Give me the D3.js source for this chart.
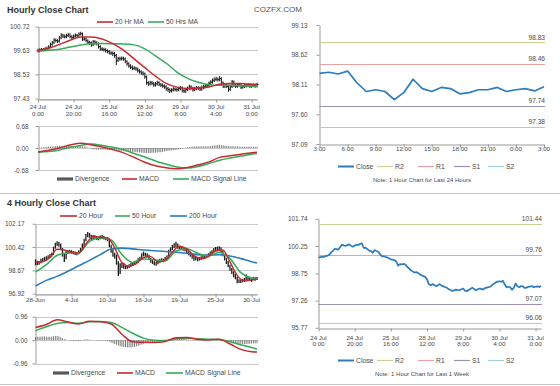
<!DOCTYPE html>
<html>
<head>
<meta charset="utf-8">
<script src="https://cdn.jsdelivr.net/npm/d3@7"></script>
<style>
  body { margin: 0; background: #fff; }
  svg { display: block; }
</style>
</head>
<body>
<div id="chart"></div>
<script>
// hourly closes, 24 Jul 0:00 -> 31 Jul 3:00 (124 bars)
const hourClose = [99.62,99.64,99.66,99.65,99.70,99.72,99.78,99.90,99.98,100.10,
  100.08,100.05,100.20,100.33,100.28,100.25,100.30,100.34,100.26,100.21,
  100.28,100.32,100.30,100.37,100.39,100.14,100.16,100.08,100.00,99.97,
  99.88,100.03,99.98,99.94,99.80,99.70,99.68,99.66,99.62,99.58,
  99.52,99.50,99.48,99.40,99.17,99.26,99.24,99.27,99.24,99.12,
  99.02,98.92,98.86,98.80,98.82,98.78,98.70,98.65,98.60,98.56,
  98.42,98.15,98.10,98.16,98.12,98.05,98.10,98.16,98.08,98.04,
  98.00,97.96,97.88,97.84,97.79,97.82,97.86,97.84,97.83,97.88,
  97.92,97.80,97.77,97.84,97.90,97.97,97.90,97.83,97.88,97.92,
  97.90,97.86,97.94,97.97,98.00,98.02,98.12,98.18,98.26,98.30,
  98.32,98.29,98.34,98.14,97.99,98.02,97.99,97.85,97.97,98.20,
  98.04,97.99,98.06,98.04,97.95,97.97,98.02,98.02,98.06,97.99,
  98.02,98.04,98.00,98.07];
const hourHigh = [99.68,99.70,99.71,99.72,99.75,99.78,99.84,99.95,100.04,100.16,
  100.15,100.12,100.26,100.39,100.37,100.33,100.36,100.41,100.38,100.30,
  100.33,100.38,100.36,100.43,100.46,100.42,100.22,100.20,100.12,100.05,
  100.01,100.08,100.07,100.02,99.97,99.84,99.75,99.73,99.70,99.66,
  99.62,99.57,99.55,99.53,99.44,99.32,99.31,99.33,99.32,99.28,
  99.16,99.06,98.97,98.91,98.88,98.86,98.82,98.75,98.70,98.65,
  98.60,98.46,98.20,98.22,98.21,98.16,98.16,98.22,98.20,98.12,
  98.09,98.05,98.01,97.93,97.88,97.88,97.92,97.91,97.90,97.94,
  97.98,97.96,97.84,97.90,97.96,98.03,98.01,97.94,97.94,97.98,
  97.97,97.95,98.00,98.03,98.06,98.08,98.18,98.24,98.32,98.37,
  98.40,98.37,98.42,98.38,98.18,98.08,98.07,98.03,98.02,98.25,
  98.23,98.08,98.11,98.10,98.08,98.02,98.07,98.07,98.12,98.10,
  98.07,98.09,98.08,98.13];
const hourLow = [99.55,99.57,99.60,99.60,99.61,99.66,99.69,99.75,99.86,99.94,
  100.02,99.99,100.01,100.16,100.22,100.19,100.21,100.26,100.21,100.15,
  100.17,100.24,100.25,100.27,100.33,100.08,100.09,100.02,99.94,99.91,
  99.82,99.85,99.92,99.88,99.74,99.64,99.62,99.60,99.56,99.52,
  99.46,99.44,99.40,99.32,98.98,99.12,99.18,99.19,99.18,99.06,
  98.95,98.86,98.80,98.74,98.75,98.72,98.64,98.59,98.54,98.50,
  98.36,98.08,98.03,98.05,98.06,97.99,98.00,98.05,98.02,97.98,
  97.94,97.90,97.81,97.76,97.70,97.73,97.77,97.78,97.76,97.78,
  97.83,97.73,97.70,97.72,97.79,97.85,97.84,97.77,97.78,97.83,
  97.84,97.80,97.81,97.88,97.92,97.95,97.97,98.07,98.13,98.21,
  98.24,98.23,98.24,98.08,97.93,97.93,97.93,97.76,97.80,97.93,
  97.98,97.93,97.94,97.99,97.89,97.90,97.93,97.96,97.98,97.93,
  97.94,97.97,97.94,97.96];
const hourDiv = [0.01,0.01,0.02,0.02,0.03,0.03,0.04,0.04,0.05,0.05,
  0.06,0.06,0.07,0.07,0.07,0.07,0.07,0.07,0.06,0.06,
  0.06,0.06,0.06,0.06,0.06,0.05,0.05,0.04,0.02,0.00,
  -0.02,-0.04,-0.04,-0.05,-0.05,-0.05,-0.05,-0.05,-0.05,-0.05,
  -0.06,-0.06,-0.07,-0.08,-0.09,-0.09,-0.09,-0.10,-0.10,-0.11,
  -0.11,-0.12,-0.12,-0.12,-0.12,-0.13,-0.13,-0.14,-0.14,-0.15,
  -0.15,-0.16,-0.16,-0.16,-0.15,-0.15,-0.14,-0.14,-0.13,-0.13,
  -0.12,-0.11,-0.10,-0.09,-0.08,-0.07,-0.07,-0.06,-0.05,-0.04,
  -0.03,-0.02,0.00,0.01,0.02,0.03,0.04,0.04,0.05,0.05,
  0.05,0.05,0.05,0.05,0.05,0.05,0.05,0.06,0.07,0.08,
  0.08,0.09,0.10,0.09,0.08,0.07,0.06,0.06,0.05,0.06,
  0.05,0.05,0.05,0.04,0.04,0.04,0.04,0.04,0.04,0.04,
  0.04,0.04,0.04,0.04];

// smooth lines of the hourly chart, sampled at these bars
const hourLineIdx = [0,6,12,18,24,30,36,42,48,54,60,66,72,78,84,90,96,102,108,114,120,123];
const hourMa20 = [99.62,99.73,99.90,100.09,100.24,100.24,100.15,99.94,99.64,99.24,98.84,98.45,98.12,97.95,97.89,97.91,97.96,98.08,98.12,98.11,98.08,98.07];
const hourMa50 = [99.62,99.64,99.68,99.78,99.87,99.93,99.94,99.93,99.92,99.88,99.70,99.38,99.04,98.64,98.35,98.17,98.06,98.03,98.03,98.01,98.00,97.99];
const hourMacd = [-0.12,-0.07,0.00,0.09,0.15,0.10,0.03,-0.05,-0.15,-0.29,-0.44,-0.55,-0.61,-0.64,-0.60,-0.52,-0.43,-0.29,-0.24,-0.19,-0.15,-0.13];
const hourSignal = [-0.13,-0.11,-0.06,0.02,0.08,0.12,0.08,0.02,-0.05,-0.17,-0.28,-0.40,-0.50,-0.59,-0.62,-0.57,-0.48,-0.38,-0.31,-0.25,-0.19,-0.17];

const hourLabels = [["24 Jul","0:00"],["24 Jul","20:00"],["25 Jul","16:00"],["28 Jul","12:00"],["29 Jul","8:00"],["30 Jul","4:00"],["31 Jul","0:00"]];
const hourPriceTicks = ["100.72","99.63","98.53","97.43"];
const hourMacdTicks = ["0.68","0.00","-0.68"];

// 4 hourly bars, 28 Jun -> 31 Jul (124 bars)
const fourClose = [99.30,99.17,99.25,99.42,99.45,99.55,99.60,99.67,99.75,99.85,
  100.35,100.60,100.67,100.62,100.30,99.80,99.55,100.00,100.05,100.10,
  100.02,100.00,99.95,99.92,100.05,100.20,100.55,100.92,101.25,101.35,
  101.30,101.10,101.20,101.17,101.10,101.05,101.17,101.20,101.10,101.05,
  101.00,100.55,100.17,99.92,99.80,99.30,98.67,99.05,99.17,99.05,
  98.92,98.95,99.00,99.10,99.17,99.25,99.30,99.45,99.55,99.80,
  99.92,99.85,99.80,99.55,99.40,99.30,99.20,99.17,99.30,99.42,
  99.45,99.42,99.55,99.67,100.10,100.25,100.42,100.50,100.62,100.42,
  100.38,100.30,100.28,100.25,100.05,99.95,99.85,99.70,99.55,99.58,
  99.50,99.55,99.60,99.65,99.67,99.75,99.80,99.95,100.05,100.20,
  100.30,100.32,100.35,100.10,99.85,99.55,99.30,99.05,98.80,98.55,
  98.30,98.17,97.80,97.88,97.85,97.90,97.92,98.05,98.10,98.00,
  97.92,98.05,98.02,98.06];
const fourHigh = [99.50,99.40,99.38,99.55,99.60,99.68,99.72,99.80,99.90,100.00,
  100.45,100.75,100.85,100.80,100.68,100.35,99.90,100.12,100.18,100.22,
  100.18,100.12,100.08,100.05,100.18,100.35,100.68,101.05,101.40,101.55,
  101.48,101.35,101.32,101.30,101.25,101.20,101.28,101.32,101.25,101.18,
  101.15,101.05,100.60,100.25,100.00,99.85,99.35,99.20,99.30,99.25,
  99.10,99.08,99.12,99.22,99.30,99.38,99.42,99.58,99.70,99.95,
  100.08,100.00,99.95,99.85,99.60,99.45,99.35,99.30,99.42,99.55,
  99.58,99.55,99.68,99.80,100.22,100.40,100.58,100.70,100.82,100.68,
  100.52,100.45,100.40,100.38,100.30,100.10,100.00,99.90,99.75,99.70,
  99.65,99.68,99.72,99.78,99.80,99.88,99.95,100.08,100.18,100.35,
  100.42,100.45,100.48,100.40,100.15,99.90,99.62,99.38,99.10,98.85,
  98.60,98.40,98.20,98.00,97.98,98.02,98.10,98.38,98.25,98.15,
  98.08,98.18,98.15,98.18];
const fourLow = [99.05,99.05,99.10,99.20,99.32,99.38,99.45,99.52,99.60,99.70,
  99.82,100.30,100.50,100.45,100.20,99.70,99.30,99.50,99.90,99.95,
  99.92,99.88,99.82,99.80,99.88,100.00,100.15,100.50,100.85,101.15,
  101.12,100.95,101.02,101.00,100.95,100.92,101.00,101.05,100.98,100.92,
  100.85,100.40,100.00,99.70,99.55,99.10,98.25,98.40,98.85,98.80,
  98.75,98.80,98.85,98.95,99.02,99.10,99.15,99.25,99.38,99.50,
  99.72,99.70,99.65,99.45,99.25,99.15,99.05,99.02,99.12,99.25,
  99.30,99.28,99.38,99.50,99.62,100.05,100.20,100.35,100.40,100.30,
  100.25,100.18,100.15,100.10,99.92,99.80,99.70,99.55,99.40,99.42,
  99.35,99.40,99.45,99.50,99.52,99.58,99.65,99.75,99.88,100.00,
  100.12,100.18,100.20,99.98,99.72,99.42,99.15,98.90,98.65,98.40,
  98.15,98.00,97.70,97.72,97.72,97.78,97.80,97.92,97.95,97.88,
  97.80,97.92,97.90,97.94];
const fourDiv = [0.13,0.13,0.14,0.14,0.15,0.15,0.14,0.14,0.13,0.14,
  0.16,0.17,0.17,0.15,0.12,0.08,0.04,0.02,0.00,-0.01,
  -0.02,-0.03,-0.03,-0.04,-0.04,-0.02,0.00,0.02,0.03,0.03,
  0.02,0.01,0.00,0.00,-0.01,-0.01,-0.02,-0.02,-0.02,-0.03,
  -0.03,-0.06,-0.10,-0.13,-0.16,-0.19,-0.23,-0.25,-0.27,-0.28,
  -0.29,-0.30,-0.30,-0.30,-0.29,-0.28,-0.26,-0.24,-0.21,-0.18,
  -0.15,-0.13,-0.12,-0.11,-0.10,-0.09,-0.09,-0.08,-0.07,-0.06,
  -0.05,-0.04,-0.04,-0.02,0.01,0.04,0.06,0.08,0.09,0.08,
  0.07,0.06,0.05,0.04,0.03,0.02,0.01,0.00,-0.01,-0.01,
  -0.02,-0.02,-0.02,-0.03,-0.03,-0.02,-0.01,0.00,0.01,0.02,
  0.02,0.02,0.02,0.01,-0.01,-0.03,-0.05,-0.07,-0.09,-0.11,
  -0.12,-0.13,-0.14,-0.15,-0.15,-0.16,-0.16,-0.16,-0.15,-0.15,
  -0.14,-0.14,-0.13,-0.13];

const fourMa20Idx = [0,4,8,12,16,20,24,28,32,36,40,44,48,52,56,60,64,68,72,76,80,84,88,92,96,100,104,108,112,116,120,123];
const fourMa20 = [99.28,99.32,99.62,100.25,100.20,100.02,99.98,100.65,101.22,101.14,101.10,100.35,99.25,98.98,99.18,99.62,99.70,99.30,99.42,100.05,100.48,100.28,99.78,99.56,99.72,100.12,100.20,99.30,98.30,97.88,97.96,98.02];
const fourLineIdx = [0,6,12,18,24,30,36,42,48,54,60,66,72,78,84,90,96,102,108,114,120,123];
const fourMa50 = [98.55,99.10,99.80,99.98,100.00,100.85,101.10,100.95,99.85,99.26,99.52,99.46,99.40,100.12,100.30,99.95,99.75,100.03,99.55,98.50,98.10,98.05];
const fourMa200 = [97.50,97.92,98.22,98.60,99.02,99.42,99.85,100.27,100.34,100.28,100.20,100.14,100.09,100.03,99.95,99.85,99.80,99.85,99.75,99.55,99.32,99.22];
const fourMacd = [0.52,0.64,0.84,0.74,0.66,0.77,0.75,0.66,0.24,-0.07,-0.09,-0.10,-0.06,0.10,0.11,0.03,0.00,0.04,-0.16,-0.38,-0.48,-0.49];
const fourSignal = [0.39,0.55,0.68,0.72,0.69,0.75,0.76,0.72,0.52,0.28,0.08,-0.01,-0.02,0.04,0.08,0.06,0.04,0.02,-0.07,-0.19,-0.30,-0.37];

const fourLabels = ["28-Jun","4-Jul","10-Jul","16-Jul","19-Jul","25-Jul","30-Jul"];
const fourPriceTicks = ["102.17","100.42","98.67","96.92"];
const fourMacdTicks = ["0.96","0.00","-0.96"];

// pivot levels
const levelNames = ["R2","R1","S1","S2"];
const dayLevels = [98.83, 98.46, 97.74, 97.38];
const weekLevels = [101.44, 99.76, 97.07, 96.06];
const dayLabels = ["3:00","6:00","9:00","12:00","15:00","18:00","21:00","0:00","3:00"];
const dayPriceTicks = ["99.13","98.62","98.11","97.60","97.09"];
const weekPriceTicks = ["101.74","100.25","98.75","97.26","95.77"];

/*********************************************/
/*              setup                        */
/*********************************************/
const FONT = "'Liberation Sans', Arial, sans-serif";
const TXT = "#4a4a4a";
const AXIS = "#9a9a9a";
const GRID = "#c9c9c9";
const RED = "#c52b2e";
const GREEN = "#34ac57";
const BLUE = "#2b7cbd";
const LEVEL_COLORS = ["#c9d294", "#e3a3a2", "#9c92b5", "#9fd0e1"];

const svg = d3.select("#chart")
  .append("svg")
    .attr("width", 560)
    .attr("height", 386)
    .attr("font-family", FONT);

const crisp = v => Math.round(v) + 0.5;

const addText = (txt, x, y, size, opts = {}) => svg.append("text")
  .text(txt)
  .attr("x", x)
  .attr("y", y)
  .attr("font-size", size)
  .attr("fill", opts.fill || TXT)
  .attr("font-weight", opts.weight || null)
  .attr("text-anchor", opts.anchor || "start");

const yAxis = (scale, left, labels, pad) => {
  const values = labels.map(Number);
  const g = svg.append("g")
    .attr("transform", `translate(${crisp(left)},0)`)
    .call(d3.axisLeft(scale).tickValues(values).tickFormat((d, i) => labels[i])
      .tickSize(3).tickPadding(pad).tickSizeOuter(0));
  g.attr("font-family", FONT).attr("font-size", 6.4);
  g.select(".domain").attr("stroke", AXIS);
  g.selectAll(".tick line").attr("stroke", AXIS);
  g.selectAll(".tick text").attr("fill", TXT);
  return g;
};

const grid = (scale, labels, x0, x1) => svg.append("g")
  .selectAll("line")
  .data(labels.map(Number))
  .join("line")
    .attr("x1", x0).attr("x2", x1)
    .attr("y1", d => crisp(scale(d))).attr("y2", d => crisp(scale(d)))
    .attr("stroke", GRID);

const xTicks = (scale, bottom, values) => {
  const g = svg.append("g")
    .attr("transform", `translate(0,${crisp(bottom)})`)
    .call(d3.axisBottom(scale).tickValues(values).tickFormat("").tickSize(3).tickSizeOuter(0));
  g.select(".domain").attr("stroke", AXIS);
  g.selectAll(".tick line").attr("stroke", AXIS);
};

const xLabels = (scale, values, labels, y, size) => svg.append("g")
  .selectAll("text")
  .data(values)
  .join("text")
    .attr("x", d => scale(d))
    .attr("y", y)
    .attr("font-size", size)
    .attr("fill", TXT)
    .attr("text-anchor", "middle")
    .selectAll("tspan")
    .data((d, i) => [].concat(labels[i]))
    .join("tspan")
      .attr("x", function() { return this.parentNode.getAttribute("x"); })
      .attr("dy", (d, i) => i === 0 ? 0 : 6.4)
      .text(d => d);

const smoothLine = (x, y, idx, values, color, width) => svg.append("path")
  .datum(values)
  .attr("d", d3.line().x((d, i) => x(idx[i])).y(d => y(d)).curve(d3.curveMonotoneX))
  .attr("fill", "none")
  .attr("stroke", color)
  .attr("stroke-width", width)
  .attr("stroke-linejoin", "round");

const divergenceBars = (x, y, values) => svg.append("g")
  .selectAll("rect")
  .data(values)
  .join("rect")
    .attr("x", (d, i) => x(i) - 0.45)
    .attr("width", 0.9)
    .attr("y", d => Math.min(y(d), y(0)))
    .attr("height", d => Math.abs(y(d) - y(0)))
    .attr("fill", "#707070");

const legend = (items, y) => items.forEach(it => {
  if (it.bar) {
    svg.append("rect").attr("x", it.x).attr("y", y - 1.6).attr("width", it.w).attr("height", 3.2).attr("fill", "#5a5a5a");
  } else {
    svg.append("line").attr("x1", it.x).attr("x2", it.x + it.w).attr("y1", y).attr("y2", y)
      .attr("stroke", it.color).attr("stroke-width", it.sw || 1.6);
  }
  addText(it.label, it.x + it.w + 2, y + 2.4, 6.8);
});

/*********************************************/
/*              titles                       */
/*********************************************/
addText("Hourly Close Chart", 7, 12.8, 9, { weight: "bold", fill: "#333" });
addText("COZFX.COM", 278, 12.2, 8, { anchor: "middle", fill: "#555" });
addText("4 Hourly Close Chart", 7, 206, 9, { weight: "bold", fill: "#333" });

svg.append("line").attr("x1", 0).attr("x2", 560).attr("y1", 193.5).attr("y2", 193.5).attr("stroke", "#c4c4c4").attr("stroke-width", 1.2);
svg.append("line").attr("x1", 0).attr("x2", 560).attr("y1", 384.5).attr("y2", 384.5).attr("stroke", "#c4c4c4").attr("stroke-width", 1.2);

/*********************************************/
/*              hourly close chart           */
/*********************************************/
const xH = d3.scaleLinear().domain([0, 123]).range([38, 257]);
const yH = d3.scaleLinear().domain([97.43, 100.72]).range([98.5, 26.5]);
const idxTicks = d3.range(0, 121, 20);

grid(yH, hourPriceTicks, 38, 258);
yAxis(yH, 38, hourPriceTicks, 6);
xTicks(xH, 98.5, idxTicks);
xLabels(xH, idxTicks, hourLabels, 109.3, 6.2);

svg.append("g").selectAll("line")
  .data(hourClose)
  .join("line")
    .attr("x1", (d, i) => xH(i)).attr("x2", (d, i) => xH(i))
    .attr("y1", (d, i) => yH(hourHigh[i]) - 0.5).attr("y2", (d, i) => yH(hourLow[i]) + 0.5)
    .attr("stroke", "#1a1a1a").attr("stroke-width", 1.05);
svg.append("g").selectAll("line")
  .data(hourClose)
  .join("line")
    .attr("x1", (d, i) => xH(i)).attr("x2", (d, i) => xH(i) + 1.4)
    .attr("y1", d => yH(d)).attr("y2", d => yH(d))
    .attr("stroke", "#1a1a1a").attr("stroke-width", 1);

smoothLine(xH, yH, hourLineIdx, hourMa50, GREEN, 1.5);
smoothLine(xH, yH, hourLineIdx, hourMa20, RED, 1.5);

legend([
  { x: 97, w: 16, color: RED, label: "20 Hr MA" },
  { x: 148, w: 16, color: GREEN, label: "50 Hrs MA" }
], 22);

// MACD
const yHm = d3.scaleLinear().domain([-0.68, 0.68]).range([170, 126]);
grid(yHm, hourMacdTicks, 38, 258);
yAxis(yHm, 38, hourMacdTicks, 7);
divergenceBars(xH, yHm, hourDiv);
smoothLine(xH, yHm, hourLineIdx, hourSignal, GREEN, 1.5);
smoothLine(xH, yHm, hourLineIdx, hourMacd, RED, 1.5);

legend([
  { x: 57, w: 16, bar: true, label: "Divergence" },
  { x: 122, w: 15, color: RED, label: "MACD" },
  { x: 173, w: 16, color: GREEN, label: "MACD Signal Line" }
], 179);

/*********************************************/
/*              4 hourly close chart         */
/*********************************************/
const xF = d3.scaleLinear().domain([0, 123]).range([35.5, 257]);
const yF = d3.scaleLinear().domain([96.92, 102.17]).range([293.7, 223.7]);

grid(yF, fourPriceTicks, 35, 258);
yAxis(yF, 35, fourPriceTicks, 8);
xTicks(xF, 293.7, idxTicks);
xLabels(xF, idxTicks, fourLabels, 302.2, 6.2);

svg.append("g").selectAll("line")
  .data(fourClose)
  .join("line")
    .attr("x1", (d, i) => xF(i)).attr("x2", (d, i) => xF(i))
    .attr("y1", (d, i) => yF(fourHigh[i])).attr("y2", (d, i) => yF(fourLow[i]))
    .attr("stroke", "#1a1a1a").attr("stroke-width", 1.3);

smoothLine(xF, yF, fourLineIdx, fourMa200, BLUE, 1.6);
smoothLine(xF, yF, fourLineIdx, fourMa50, GREEN, 1.5);
smoothLine(xF, yF, fourMa20Idx, fourMa20, RED, 1.4);

legend([
  { x: 60, w: 17, color: RED, label: "20 Hour" },
  { x: 115, w: 15, color: GREEN, label: "50 Hour" },
  { x: 170, w: 17, color: BLUE, label: "200 Hour" }
], 216);

// MACD
const yFm = d3.scaleLinear().domain([-0.96, 0.96]).range([363.5, 316.7]);
grid(yFm, fourMacdTicks, 35, 258);
yAxis(yFm, 35, fourMacdTicks, 5);
divergenceBars(xF, yFm, fourDiv);
smoothLine(xF, yFm, fourLineIdx, fourSignal, GREEN, 1.5);
smoothLine(xF, yFm, fourLineIdx, fourMacd, RED, 1.5);

legend([
  { x: 53, w: 16, bar: true, label: "Divergence" },
  { x: 117, w: 16, color: RED, label: "MACD" },
  { x: 166, w: 17, color: GREEN, label: "MACD Signal Line" }
], 373);

/*********************************************/
/*              pivot charts (right side)    */
/*********************************************/
const pivotChart = ({ closes, x, y, ticks, levels, tickIdx, labels, labelY, legendY, note, pad }) => {
  yAxis(y, x.range()[0] - 0.5, ticks, pad);
  xTicks(x, y.range()[0], tickIdx);
  xLabels(x, tickIdx, labels, labelY, 6.2);

  const right = x.range()[1] + 1;
  levels.forEach((v, k) => {
    svg.append("line")
      .attr("x1", x.range()[0]).attr("x2", right)
      .attr("y1", crisp(y(v))).attr("y2", crisp(y(v)))
      .attr("stroke", LEVEL_COLORS[k]).attr("stroke-width", 1.2);
    addText(v.toFixed(2), right, y(v) - 3, 6.6, { anchor: "end" });
  });

  svg.append("path")
    .datum(closes)
    .attr("d", d3.line().x((d, i) => x(i)).y(d => y(d)))
    .attr("fill", "none")
    .attr("stroke", BLUE)
    .attr("stroke-width", 1.7)
    .attr("stroke-linejoin", "round");

  const legendX = [338, 377, 418, 454, 488];
  legend(["Close"].concat(levelNames).map((name, k) => ({
    x: legendX[k], w: 16,
    color: k === 0 ? BLUE : LEVEL_COLORS[k - 1],
    sw: k === 0 ? 2 : 1.2,
    label: name
  })), legendY);

  addText(note, 422, legendY + 15, 6, { anchor: "middle" });
};

pivotChart({
  closes: hourClose.slice(99),
  x: d3.scaleLinear().domain([0, 24]).range([319.5, 544]),
  y: d3.scaleLinear().domain([97.09, 99.13]).range([144, 25]),
  ticks: dayPriceTicks,
  levels: dayLevels,
  tickIdx: d3.range(0, 25, 3),
  labels: dayLabels,
  labelY: 150.5,
  legendY: 166.5,
  note: "Note: 1 Hour Chart for Last 24 Hours",
  pad: 9
});

pivotChart({
  closes: hourClose,
  x: d3.scaleLinear().domain([0, 123]).range([318.5, 541]),
  y: d3.scaleLinear().domain([95.77, 101.74]).range([327.8, 218.8]),
  ticks: weekPriceTicks,
  levels: weekLevels,
  tickIdx: idxTicks,
  labels: hourLabels,
  labelY: 339.5,
  legendY: 360.5,
  note: "Note: 1 Hour Chart for Last 1 Week",
  pad: 8
});
</script>
</body>
</html>
